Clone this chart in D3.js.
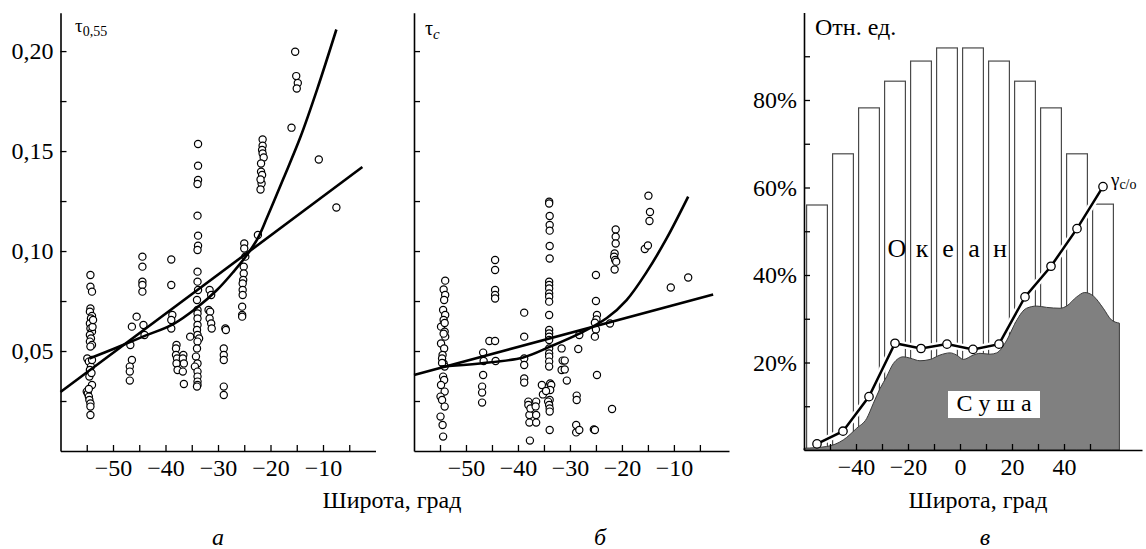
<!DOCTYPE html>
<html>
<head>
<meta charset="utf-8">
<script src="https://cdn.jsdelivr.net/npm/d3@7"></script>
<style>
body { margin: 0; background: #fff; }
text { font-family: "Liberation Serif", "DejaVu Serif", serif; }
</style>
</head>
<body>
<script>
// ---------- данные: панель а (tau 0.55) ----------
var pointsA = [
  [-54.3,0.088],[-54.3,0.0822],[-54.0,0.0797],[-54.3,0.0713],[-54.4,0.0697],[-54.0,0.0675],[-54.2,0.0663],
  [-54.4,0.0638],[-54.3,0.0613],[-54.0,0.0597],[-54.4,0.058],[-54.2,0.0563],[-54.4,0.0547],[-54.0,0.053],
  [-54.3,0.0522],[-54.9,0.0463],[-54.6,0.0447],[-54.2,0.0422],[-54.4,0.0405],[-54.5,0.0372],[-54.0,0.033],
  [-55.0,0.0297],[-54.8,0.0288],[-54.6,0.0272],[-54.5,0.0255],[-54.3,0.0238],[-54.3,0.0222],[-54.3,0.018],
  [-54.0,0.0455],[-54.1,0.039],[-54.6,0.031],[-53.9,0.062],[-53.8,0.0655],
  [-46.4,0.0622],[-46.7,0.053],[-46.4,0.0455],[-46.8,0.0422],[-46.8,0.0397],[-46.8,0.0352],[-45.5,0.0672],
  [-44.4,0.0972],[-44.4,0.0922],[-44.4,0.0847],[-44.4,0.083],[-44.4,0.0797],[-44.2,0.063],[-44.0,0.058],
  [-38.9,0.0958],[-38.9,0.083],[-38.7,0.068],[-38.9,0.0655],[-38.9,0.0613],[-35.3,0.0572],
  [-37.9,0.053],[-38.0,0.0513],[-38.0,0.048],[-37.8,0.0463],[-37.9,0.0438],[-37.7,0.0405],
  [-36.6,0.048],[-36.7,0.0463],[-36.5,0.0438],[-36.7,0.0397],[-36.5,0.0335],
  [-33.8,0.1535],[-33.8,0.1427],[-33.8,0.1355],[-33.9,0.1335],[-33.9,0.1177],[-33.8,0.1077],[-33.8,0.1027],
  [-33.9,0.1005],[-33.9,0.0897],[-33.9,0.0847],[-33.8,0.0805],[-34.0,0.0755],[-33.9,0.0705],[-33.9,0.0688],
  [-33.9,0.0663],[-33.9,0.063],[-34.0,0.0605],[-33.9,0.058],[-33.6,0.0563],[-33.9,0.0547],[-34.0,0.0513],
  [-34.2,0.0472],[-33.9,0.0438],[-34.4,0.0422],[-33.9,0.0397],[-33.9,0.0372],[-33.9,0.0347],[-33.9,0.033],[-34.0,0.0322],
  [-31.6,0.0805],[-31.3,0.078],[-31.8,0.0705],[-31.5,0.0697],[-31.6,0.0663],[-31.3,0.0638],[-31.2,0.0613],
  [-28.6,0.0613],[-28.5,0.0605],[-28.9,0.0513],[-28.9,0.048],[-28.9,0.0455],[-28.9,0.0322],[-28.9,0.028],
  [-25.0,0.1038],[-25.0,0.1013],[-24.8,0.0972],[-25.1,0.0922],[-25.1,0.0888],[-25.2,0.0855],[-25.3,0.0838],
  [-25.3,0.0805],[-25.3,0.078],[-25.4,0.0722],[-25.4,0.068],[-25.4,0.0672],[-22.4,0.108],
  [-21.5,0.1558],[-21.5,0.1527],[-21.6,0.1505],[-21.5,0.1488],[-21.3,0.1468],[-21.8,0.1438],[-21.8,0.1397],
  [-21.6,0.138],[-21.7,0.1338],[-21.9,0.1358],[-21.9,0.1308],
  [-15.3,0.1997],[-15.1,0.1875],[-14.8,0.184],[-15.0,0.1813],[-16.0,0.1617],[-10.8,0.1458],[-7.45,0.1218]
];
var lineA = [[-60,0.0295],[-2.5,0.142]];
var curveA = [[-54.5,0.0463],[-49.7,0.0513],[-44.3,0.0572],[-38.5,0.0635],[-34.1,0.0715],[-30.2,0.0805],
  [-27.1,0.0895],[-24.5,0.098],[-22.4,0.1065],[-20.7,0.1165],[-17.5,0.1365],[-14.3,0.157],[-11.1,0.181],[-7.45,0.2108]];

// ---------- данные: панель б (tau c) ----------
var pointsB = [
  [-54.0,0.0852],[-54.3,0.0808],[-54.0,0.078],[-54.2,0.0755],[-54.4,0.0705],[-54.0,0.068],[-54.3,0.0655],
  [-54.8,0.0622],[-54.1,0.0597],[-54.0,0.0572],[-54.8,0.0538],[-54.2,0.0513],[-54.5,0.048],[-54.6,0.0463],
  [-54.3,0.0438],[-54.1,0.0422],[-54.4,0.0372],[-54.2,0.0355],[-54.8,0.033],[-54.1,0.0297],[-54.9,0.0272],
  [-54.6,0.0255],[-54.1,0.0222],[-54.9,0.0172],[-54.5,0.013],[-54.4,0.0072],[-54.6,0.044],[-54.1,0.064],[-54.3,0.0587],
  [-46.7,0.0492],[-46.6,0.045],[-46.7,0.038],[-46.9,0.0322],[-46.9,0.0292],[-46.9,0.0242],[-45.5,0.055],
  [-44.4,0.0955],[-44.4,0.0905],[-44.4,0.0805],[-44.4,0.078],[-44.4,0.0763],[-44.4,0.055],[-44.3,0.045],
  [-38.8,0.0692],[-38.8,0.0572],[-38.8,0.0463],[-38.8,0.043],[-38.8,0.0363],[-38.8,0.0342],
  [-38.0,0.0247],[-38.0,0.023],[-37.8,0.018],[-37.8,0.0142],[-37.7,0.0052],[-36.5,0.0247],[-36.5,0.018],
  [-36.5,0.0142],[-37.6,0.0213],[-36.6,0.0223],
  [-34.0,0.1247],[-34.0,0.1238],[-33.9,0.1175],[-33.9,0.113],[-33.9,0.1102],[-33.9,0.1025],[-33.9,0.0963],
  [-34.0,0.0847],[-34.0,0.083],[-34.0,0.0813],[-34.0,0.0788],[-34.0,0.0772],[-34.0,0.0747],[-34.0,0.068],
  [-34.0,0.0605],[-34.0,0.0588],[-34.0,0.0572],[-34.0,0.0555],[-34.0,0.0513],[-34.0,0.0488],[-34.0,0.0472],
  [-34.0,0.0447],[-34.0,0.0422],[-33.8,0.0338],[-33.6,0.033],[-33.8,0.0305],[-33.9,0.0255],[-34.2,0.0247],
  [-34.0,0.023],[-33.9,0.0213],[-33.9,0.0197],[-33.9,0.0105],[-35.4,0.033],[-35.2,0.0283],[-34.6,0.03],
  [-31.6,0.0513],[-31.4,0.0452],[-31.0,0.0452],[-31.6,0.0405],[-31.0,0.0408],[-30.6,0.0352],
  [-28.7,0.0277],[-28.7,0.0255],[-28.8,0.013],[-28.8,0.0093],[-28.2,0.0105],[-28.2,0.058],[-28.4,0.051],
  [-25.4,0.0108],[-25.2,0.0105],[-25.0,0.088],[-25.0,0.075],[-24.8,0.068],[-24.9,0.0658],[-25.2,0.0642],
  [-25.0,0.0608],[-25.2,0.0572],[-24.8,0.038],[-22.3,0.0638],[-21.9,0.021],
  [-21.2,0.1108],[-21.2,0.1072],[-21.2,0.1038],[-21.4,0.0988],[-21.5,0.0972],[-21.3,0.0955],[-21.1,0.0947],[-21.4,0.0908],
  [-14.9,0.1277],[-14.6,0.1195],[-14.7,0.115],[-15.6,0.101],[-15.0,0.1028],[-10.6,0.0818],[-7.25,0.0868]
];
var lineB = [[-60,0.038],[-2.45,0.0783]];
var curveB = [[-55,0.0422],[-47.3,0.0438],[-39,0.0468],[-33.8,0.0522],[-28.1,0.0588],[-22.9,0.0665],
  [-19.1,0.0755],[-15.2,0.0897],[-11.4,0.1063],[-7.25,0.1272]];

// ---------- данные: панель в ----------
var barLat = [-55,-45,-35,-25,-15,-5,5,15,25,35,45,55];
var oceanPct = [56,67.7,78.2,84.3,88.9,91.9,91.9,88.9,84.3,78.2,67.7,56.2];
var landLat = [-60,-51.3,-44.9,-39.7,-35.9,-33.3,-30.8,-28.2,-25.6,-21.8,-19.2,-15.4,-11.5,-7.7,-3.8,-1.3,1.3,
  5.1,7.7,11.5,14.1,18,21.8,25.6,29.5,33.3,38.5,41,44.9,48,51.3,55.1,58.3,61.3];
var landPct = [0.4,0.8,2.3,5,7.2,10.7,14,16.8,19.8,21.3,21,20.4,20.7,21.7,22.2,21.7,20.7,
  21.7,22.1,21.9,22.2,25.1,29.7,32.4,32.9,32.6,32.4,32.9,35,36,35.2,32.4,29.7,29];
var gammaLat = [-55,-45,-35,-25,-15,-5,5,15,25,35,45,55];
var gammaPct = [1.4,4.3,12.2,24.4,23.2,24.2,23.0,24.2,35.0,42.0,50.6,60.2];
var oceanLetters = ["О","к","е","а","н"];

// ---------- подписи осей ----------
var tauTicks = [0.025,0.05,0.075,0.10,0.125,0.15,0.175,0.20];
var tauLabels = ["","0,05","","0,10","","0,15","","0,20"];
var latTicks = [-55,-50,-45,-40,-35,-30,-25,-20,-15,-10,-5];
var latLabels = ["","−50","","−40","","−30","","−20","","−10",""];
var pctTicks = [10,20,30,40,50,60,70,80,90];
var pctLabels = ["","20%","","40%","","60%","","80%",""];
var latTicksC = [-50,-40,-30,-20,-10,0,10,20,30,40,50];
var latLabelsC = ["","−40","","−20","","0","","20","","40",""];

var FONT = '"Liberation Serif", "DejaVu Serif", serif';

var svg = d3.select("body").append("svg")
  .attr("width", 1146).attr("height", 549);

function styleAxis(g) {
  g.attr("font-family", FONT).attr("font-size", 24);
  g.select(".domain").attr("stroke", "#000").attr("stroke-width", 1.6);
  g.selectAll(".tick line").attr("stroke", "#000").attr("stroke-width", 1.3);
  g.selectAll(".tick text").attr("fill", "#000");
}

function scatterPanel(x, y, pts, line1, curve1, yLabels) {
  var g = svg.append("g");
  g.append("g").attr("transform", "translate(0," + y(0) + ")")
    .call(d3.axisBottom(x).tickValues(latTicks).tickSize(-6).tickSizeOuter(0).tickPadding(8)
      .tickFormat(function(d, i) { return latLabels[i]; }))
    .call(styleAxis);
  g.append("g").attr("transform", "translate(" + x(-60) + ",0)")
    .call(d3.axisLeft(y).tickValues(tauTicks).tickSize(-6).tickSizeOuter(0).tickPadding(7)
      .tickFormat(function(d, i) { return yLabels[i]; }))
    .call(styleAxis);

  g.selectAll("circle.pt").data(pts).enter().append("circle")
    .attr("class", "pt")
    .attr("cx", function(d) { return x(d[0]); })
    .attr("cy", function(d) { return y(d[1]); })
    .attr("r", 3.6)
    .attr("fill", "#fff").attr("stroke", "#000").attr("stroke-width", 1.2);

  var ln = d3.line().x(function(d) { return x(d[0]); }).y(function(d) { return y(d[1]); });
  g.append("path").attr("d", ln(line1)).attr("fill", "none").attr("stroke", "#000").attr("stroke-width", 2.6);
  g.append("path").attr("d", ln.curve(d3.curveCatmullRom.alpha(0.5))(curve1))
    .attr("fill", "none").attr("stroke", "#000").attr("stroke-width", 2.6);
  return g;
}

// панель а
var xa = d3.scaleLinear().domain([-60, 0]).range([60.5, 375.5]);
var ya = d3.scaleLinear().domain([0, 0.2192]).range([451, 12.7]);
scatterPanel(xa, ya, pointsA, lineA, curveA, tauLabels);
var ta = svg.append("text").attr("x", 75).attr("y", 32).attr("font-size", 19);
ta.append("tspan").text("τ");
ta.append("tspan").attr("font-size", 14).attr("dy", 4).text("0,55");

// панель б
var xb = d3.scaleLinear().domain([-60, 0.6]).range([414, 729]);
var yb = ya.copy();
scatterPanel(xb, yb, pointsB, lineB, curveB, tauTicks.map(function() { return ""; }));
var tb = svg.append("text").attr("x", 425).attr("y", 35).attr("font-size", 20);
tb.append("tspan").text("τ");
tb.append("tspan").attr("font-size", 15).attr("font-style", "italic").attr("dy", 4).text("c");

// панель в
var xc = d3.scaleLinear().domain([-60, 70]).range([804, 1142]);
var yc = d3.scaleLinear().domain([0, 100]).range([450, 12.5]);
var gc = svg.append("g");

gc.selectAll("rect.bar").data(barLat).enter().append("rect")
  .attr("class", "bar")
  .attr("x", function(d) { return xc(d - 5) + 2.6; })
  .attr("width", function(d) { return xc(d + 5) - xc(d - 5) - 5.2; })
  .attr("y", function(d, i) { return yc(oceanPct[i]); })
  .attr("height", function(d, i) { return yc(0) - yc(oceanPct[i]); })
  .attr("fill", "#fff").attr("stroke", "#4a4a4a").attr("stroke-width", 1.2);

var land = landLat.map(function(d, i) { return [d, landPct[i]]; });
gc.append("path")
  .attr("d", d3.area().curve(d3.curveMonotoneX)
    .x(function(d) { return xc(d[0]); })
    .y0(yc(0))
    .y1(function(d) { return yc(d[1]); })(land))
  .attr("fill", "#808080").attr("stroke", "#3a3a3a").attr("stroke-width", 1);

gc.selectAll("text.ocean").data(oceanLetters).enter().append("text")
  .attr("class", "ocean")
  .attr("x", function(d, i) { return xc(barLat[i + 3]) + (i === 0 ? 2 : 1); })
  .attr("y", 257)
  .attr("text-anchor", "middle")
  .attr("font-size", 26)
  .text(function(d) { return d; });

gc.append("rect").attr("x", 948).attr("y", 391).attr("width", 92).attr("height", 27).attr("fill", "#fff");
gc.append("text").attr("x", 994).attr("y", 411).attr("text-anchor", "middle")
  .attr("font-size", 24).attr("xml:space", "preserve").text("С у ш а");

var gamma = gammaLat.map(function(d, i) { return [d, gammaPct[i]]; });
var gl = d3.line().x(function(d) { return xc(d[0]); }).y(function(d) { return yc(d[1]); });
gc.append("path").attr("d", gl(gamma)).attr("fill", "none").attr("stroke", "#fff").attr("stroke-width", 7);
gc.append("path").attr("d", gl(gamma)).attr("fill", "none").attr("stroke", "#000").attr("stroke-width", 2.5);
gc.selectAll("circle.g").data(gamma).enter().append("circle")
  .attr("class", "g")
  .attr("cx", function(d) { return xc(d[0]); })
  .attr("cy", function(d) { return yc(d[1]); })
  .attr("r", 4.2)
  .attr("fill", "#fff").attr("stroke", "#000").attr("stroke-width", 1.3);

gc.append("g").attr("transform", "translate(0," + yc(0) + ")")
  .call(d3.axisBottom(xc).tickValues(latTicksC).tickSize(-6).tickSizeOuter(0).tickPadding(8)
    .tickFormat(function(d, i) { return latLabelsC[i]; }))
  .call(styleAxis);
gc.append("g").attr("transform", "translate(" + xc(-60) + ",0)")
  .call(d3.axisLeft(yc).tickValues(pctTicks).tickSize(-6).tickSizeOuter(0).tickPadding(7)
    .tickFormat(function(d, i) { return pctLabels[i]; }))
  .call(styleAxis);

svg.append("text").attr("x", 815).attr("y", 35).attr("font-size", 24).text("Отн. ед.");
var tg = svg.append("text").attr("x", 1111).attr("y", 186).attr("font-size", 19);
tg.append("tspan").text("γ");
tg.append("tspan").attr("font-size", 14).attr("dy", 3).text("c/o");

// подписи снизу
svg.append("text").attr("x", 392).attr("y", 508).attr("text-anchor", "middle").attr("font-size", 24).text("Широта, град");
svg.append("text").attr("x", 978).attr("y", 508).attr("text-anchor", "middle").attr("font-size", 24).text("Широта, град");
var subs = [["а", 218], ["б", 600], ["в", 985]];
svg.selectAll("text.sub").data(subs).enter().append("text")
  .attr("class", "sub")
  .attr("x", function(d) { return d[1]; })
  .attr("y", 545)
  .attr("text-anchor", "middle")
  .attr("font-size", 24).attr("font-style", "italic")
  .text(function(d) { return d[0]; });
</script>
</body>
</html>
